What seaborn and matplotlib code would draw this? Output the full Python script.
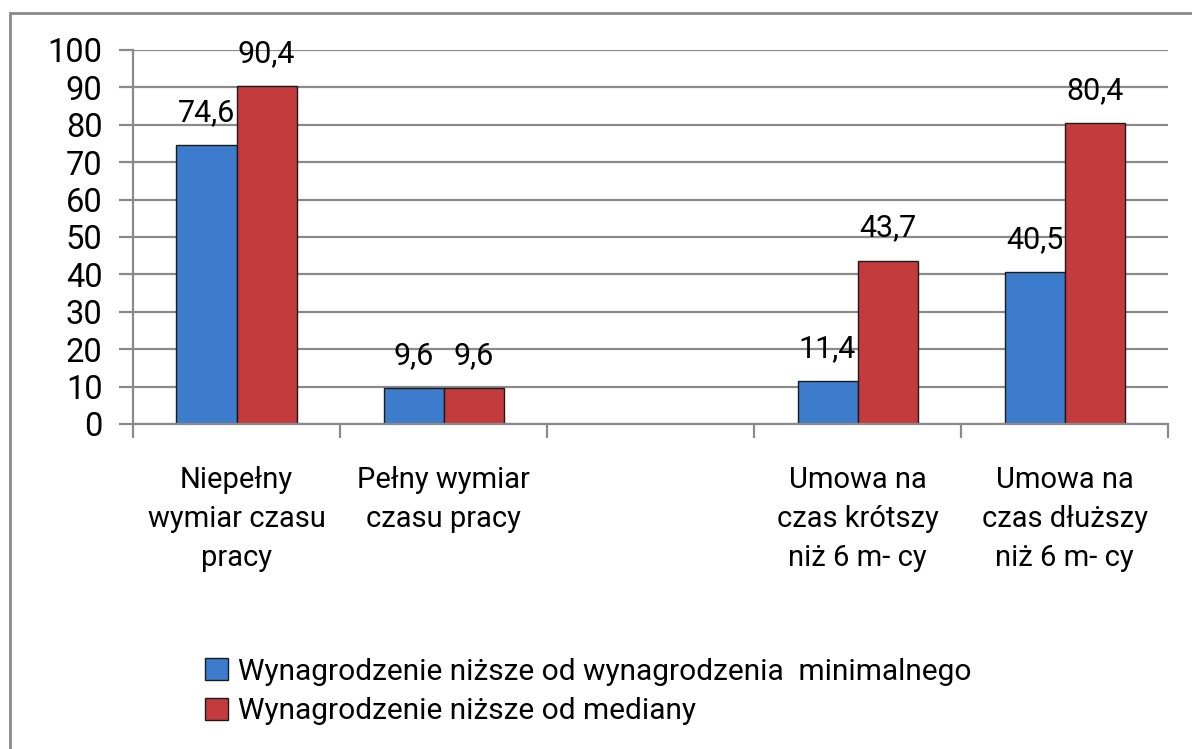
import numpy as np
import pandas as pd
import seaborn as sns
import matplotlib.pyplot as plt
from matplotlib.patches import Rectangle

categories = [
    "Niepełny\nwymiar czasu\npracy",
    "Pełny wymiar\nczasu pracy",
    " ",
    "Umowa na\nczas krótszy\nniż 6 m- cy",
    "Umowa na\nczas dłuższy\nniż 6 m- cy",
]
series_names = [
    "Wynagrodzenie niższe od wynagrodzenia  minimalnego",
    "Wynagrodzenie niższe od mediany",
]
below_minimum = [74.6, 9.6, np.nan, 11.4, 40.5]
below_median = [90.4, 9.6, np.nan, 43.7, 80.4]
colors = ["#3D7CCC", "#C43B3D"]

df = pd.DataFrame({
    "kategoria": categories * 2,
    "seria": [series_names[0]] * 5 + [series_names[1]] * 5,
    "wartosc": below_minimum + below_median,
})

sns.set_style("white")
plt.rcParams['font.family'] = ['Roboto', 'DejaVu Sans']
plt.rcParams['text.color'] = 'black'

fig = plt.figure(figsize=(11.92, 7.49), dpi=100)
ax = fig.add_axes([0.1116, 0.434, 0.8683, 0.4993])

sns.barplot(data=df, x="kategoria", y="wartosc", hue="seria",
            order=categories, hue_order=series_names,
            palette=colors, width=0.58, saturation=1,
            edgecolor="#1a1a1a", linewidth=1.0, ax=ax)

# value labels
for cont in ax.containers:
    labels = ["" if np.isnan(v) else f"{v:.1f}".replace(".", ",")
              for v in cont.datavalues]
    ax.bar_label(cont, labels=labels, padding=13, fontsize=22, color="black")

ax.set_ylim(0, 100)
ax.set_xlim(-0.5, 4.5)
ax.set_yticks(range(0, 101, 10))
ax.set_xlabel("")
ax.set_ylabel("")
ax.yaxis.grid(True, color="#8a8a8a", linewidth=1.6)
ax.set_axisbelow(True)
for side in ["top", "right"]:
    ax.spines[side].set_visible(False)
for side in ["left", "bottom"]:
    ax.spines[side].set_color("#8a8a8a")
    ax.spines[side].set_linewidth(1.6)

ax.tick_params(axis="y", length=10, width=1.6, color="#8a8a8a",
               labelsize=23.5, labelcolor="black", pad=12, direction="out",
               left=True)
ax.set_xticks(range(5))
ax.set_xticklabels(categories, fontsize=21, linespacing=1.5, color="black")
ax.tick_params(axis="x", which="major", length=0, pad=30)
ax.set_xticks(np.arange(-0.5, 5, 1), minor=True)
ax.tick_params(axis="x", which="minor", length=10, width=1.6,
               color="#8a8a8a", direction="out", bottom=True)

leg = ax.legend(loc="upper left", bbox_to_anchor=(0.07, -0.625),
                frameon=False, fontsize=21.5, handlelength=0.75,
                handleheight=0.75, handletextpad=0.35, labelspacing=0.38,
                borderaxespad=0, borderpad=0)
for t in leg.get_texts():
    t.set_color("black")

# chart border, right and bottom edges run off the picture
fig.patches.append(Rectangle((10 / 1192, -0.05), 1.1, 736 / 749 + 0.05,
                             transform=fig.transFigure, fill=False,
                             edgecolor="#8a8a8a", linewidth=2))

fig.savefig("out.png", dpi=100)
